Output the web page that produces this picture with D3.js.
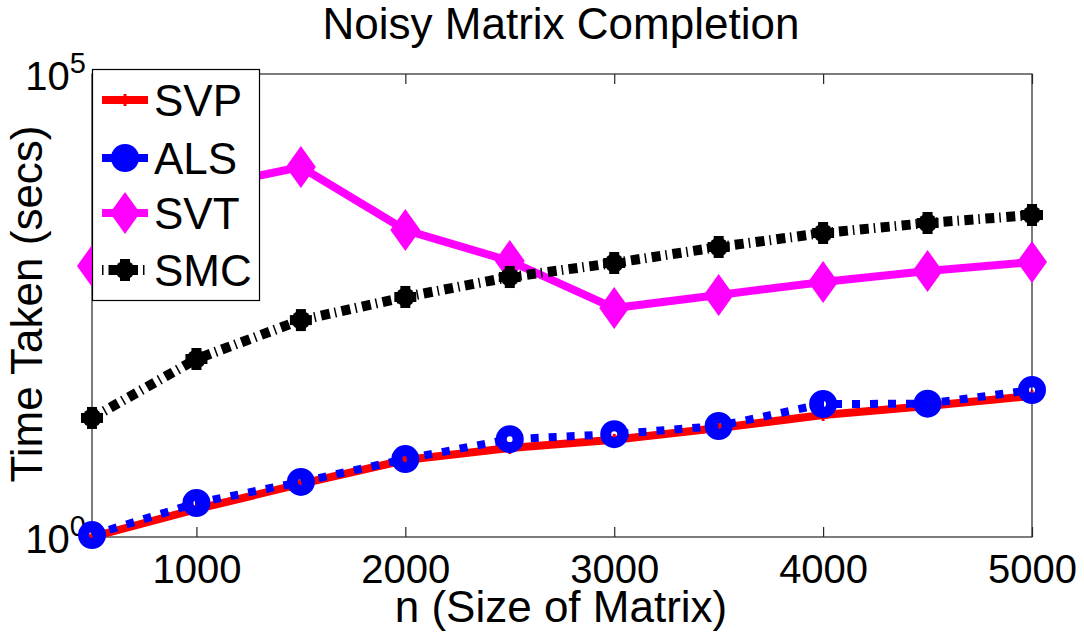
<!DOCTYPE html>
<html><head><meta charset="utf-8">
<script src="https://cdn.jsdelivr.net/npm/d3@7"></script>
<style>body{margin:0;background:#fff}svg{display:block;font-family:"Liberation Sans",Arial,sans-serif}</style>
</head><body>
<svg id="c" width="1084" height="634"></svg>
<script>
const sizes = [500,1000,1500,2000,2500,3000,3500,4000,4500,5000];
const svp = [1, 2.0, 3.74, 6.78, 9.14, 11.2, 15.0, 20.8, 26.0, 33.3];
const als = [1.05, 2.33, 3.93, 6.95, 11.4, 12.9, 15.8, 27.3, 27.5, 38.7];
const svt = [845, 5800, 9900, 2067, 957, 297, 411, 567, 746, 933];
const smc = [19.3, 83.6, 220, 391, 642, 910, 1355, 1919, 2460, 3000];
const seriesNames = ["SVP","ALS","SVT","SMC"];
const xTicks = [1000,2000,3000,4000,5000];
const yTicks = [1, 1e5];
const yTickExp = ["0","5"];
const title = "Noisy Matrix Completion";
const xLabel = "n (Size of Matrix)";
const yLabel = "Time Taken (secs)";

const svg = d3.select("#c");
const L=92, R=1032, T=74, B=537;
const x = d3.scaleLinear().domain([500,5000]).range([L,R]);
const y = d3.scaleLog().domain([1,1e5]).range([B,T]);

// frame
svg.append("rect").attr("x",L).attr("y",T).attr("width",R-L).attr("height",B-T)
  .attr("fill","none").attr("stroke","#262626").attr("stroke-width",1.2);

const xb = svg.append("g").attr("transform",`translate(0,${B})`)
  .call(d3.axisBottom(x).tickValues(xTicks).tickSizeInner(-10).tickSizeOuter(0).tickPadding(18).tickFormat(d3.format("d")));
const xt = svg.append("g").attr("transform",`translate(0,${T})`)
  .call(d3.axisTop(x).tickValues(xTicks).tickSizeInner(-10).tickSizeOuter(0).tickFormat(""));
[xb,xt].forEach(g=>{g.select(".domain").remove();g.selectAll("line").attr("stroke","#262626").attr("stroke-width",1.2);});
xb.selectAll("text").attr("font-size",40).attr("fill","#000").attr("font-family","Liberation Sans, Arial, sans-serif");

const ya = svg.append("g").attr("transform",`translate(${L},0)`)
  .call(d3.axisLeft(y).tickValues(yTicks).tickSize(0).tickPadding(8).tickFormat(""));
ya.select(".domain").remove();
ya.selectAll(".tick").each(function(d,i){
  const t = d3.select(this).append("text").attr("x",-6).attr("y",15).attr("text-anchor","end")
    .attr("fill","#000").attr("font-family","Liberation Sans, Arial, sans-serif");
  t.append("tspan").attr("font-size",40).text("10");
  t.append("tspan").attr("font-size",29).attr("dy",-17).text(yTickExp[i]);
});

const line = d3.line().x((d,i)=>x(sizes[i])).y(d=>y(d));

// SVP
svg.append("path").datum(svp).attr("d",line).attr("fill","none").attr("stroke","#ff0000").attr("stroke-width",8);
function star(g, cx, cy, s, col){
  for (let a of [90,30,-30]) {
    const r=a*Math.PI/180;
    g.append("line").attr("x1",cx-s*Math.cos(r)).attr("y1",cy-s*Math.sin(r))
      .attr("x2",cx+s*Math.cos(r)).attr("y2",cy+s*Math.sin(r)).attr("stroke",col).attr("stroke-width",3);
  }
}
const gsvp = svg.append("g");
svp.forEach((v,i)=>star(gsvp, x(sizes[i]), y(v), 6, "#ff0000"));

// ALS
svg.append("path").datum(als).attr("d",line).attr("fill","none").attr("stroke","#0000ff").attr("stroke-width",8).attr("stroke-dasharray","8,10");
svg.append("g").selectAll("circle").data(als).join("circle")
  .attr("cx",(d,i)=>x(sizes[i])).attr("cy",d=>y(d)).attr("r",8.5)
  .attr("fill","none").attr("stroke","#0000ff").attr("stroke-width",11);

// SVT
svg.append("path").datum(svt).attr("d",line).attr("fill","none").attr("stroke","#ff00ff").attr("stroke-width",8);
const diamond = (cx,cy,w,h)=>`M${cx},${cy-h/2}L${cx+w/2},${cy}L${cx},${cy+h/2}L${cx-w/2},${cy}Z`;
svg.append("g").selectAll("path").data(svt).join("path")
  .attr("d",(d,i)=>diamond(x(sizes[i]),y(d),30,42)).attr("fill","#ff00ff");

// SMC
svg.append("path").datum(smc).attr("d",line).attr("fill","none").attr("stroke","#000").attr("stroke-width",10).attr("stroke-dasharray","9,5,1.5,5.5");
const gsmc = svg.append("g");
smc.forEach((v,i)=>{
  const cx=x(sizes[i]), cy=y(v);
  gsmc.append("circle").attr("cx",cx).attr("cy",cy).attr("r",9.5).attr("fill","#000");
  gsmc.append("rect").attr("x",cx-11).attr("y",cy-5).attr("width",22).attr("height",10).attr("fill","#000");
  gsmc.append("rect").attr("x",cx-5).attr("y",cy-11).attr("width",10).attr("height",22).attr("fill","#000");
});

// legend
const lg = svg.append("g");
lg.append("rect").attr("x",92.5).attr("y",69.5).attr("width",167).attr("height",231)
  .attr("fill","#fff").attr("stroke","#000").attr("stroke-width",1.2);
const ly = [100,158,213,270];
const lx1=102, lx2=148, lc=125;
lg.append("line").attr("x1",lx1).attr("x2",lx2).attr("y1",ly[0]).attr("y2",ly[0]).attr("stroke","#ff0000").attr("stroke-width",8);
star(lg, lc, ly[0], 6, "#ff0000");
lg.append("line").attr("x1",lx1).attr("x2",lx2).attr("y1",ly[1]).attr("y2",ly[1]).attr("stroke","#0000ff").attr("stroke-width",8);
lg.append("circle").attr("cx",lc).attr("cy",ly[1]).attr("r",14).attr("fill","#0000ff");
lg.append("line").attr("x1",lx1).attr("x2",lx2).attr("y1",ly[2]).attr("y2",ly[2]).attr("stroke","#ff00ff").attr("stroke-width",8);
lg.append("path").attr("d",diamond(lc,ly[2],30,42)).attr("fill","#ff00ff");
lg.append("line").attr("x1",lx1).attr("x2",lx2).attr("y1",ly[3]).attr("y2",ly[3]).attr("stroke","#000").attr("stroke-width",10).attr("stroke-dasharray","1.5,5,9,5");
lg.append("circle").attr("cx",lc).attr("cy",ly[3]).attr("r",9.5).attr("fill","#000");
lg.append("rect").attr("x",lc-11).attr("y",ly[3]-5).attr("width",22).attr("height",10).attr("fill","#000");
lg.append("rect").attr("x",lc-5).attr("y",ly[3]-11).attr("width",10).attr("height",22).attr("fill","#000");
seriesNames.forEach((n,i)=>{
  lg.append("text").attr("x",154).attr("y",ly[i]+15.5).attr("font-size",44).attr("fill","#000").text(n);
});

// titles
svg.append("text").attr("x",561).attr("y",39).attr("text-anchor","middle").attr("font-size",44).attr("fill","#000").text(title);
svg.append("text").attr("x",561).attr("y",622).attr("text-anchor","middle").attr("font-size",44).attr("fill","#000").text(xLabel);
svg.append("text").attr("transform","translate(42,304) rotate(-90)").attr("text-anchor","middle").attr("font-size",44).attr("fill","#000").text(yLabel);
</script>
</body></html>
